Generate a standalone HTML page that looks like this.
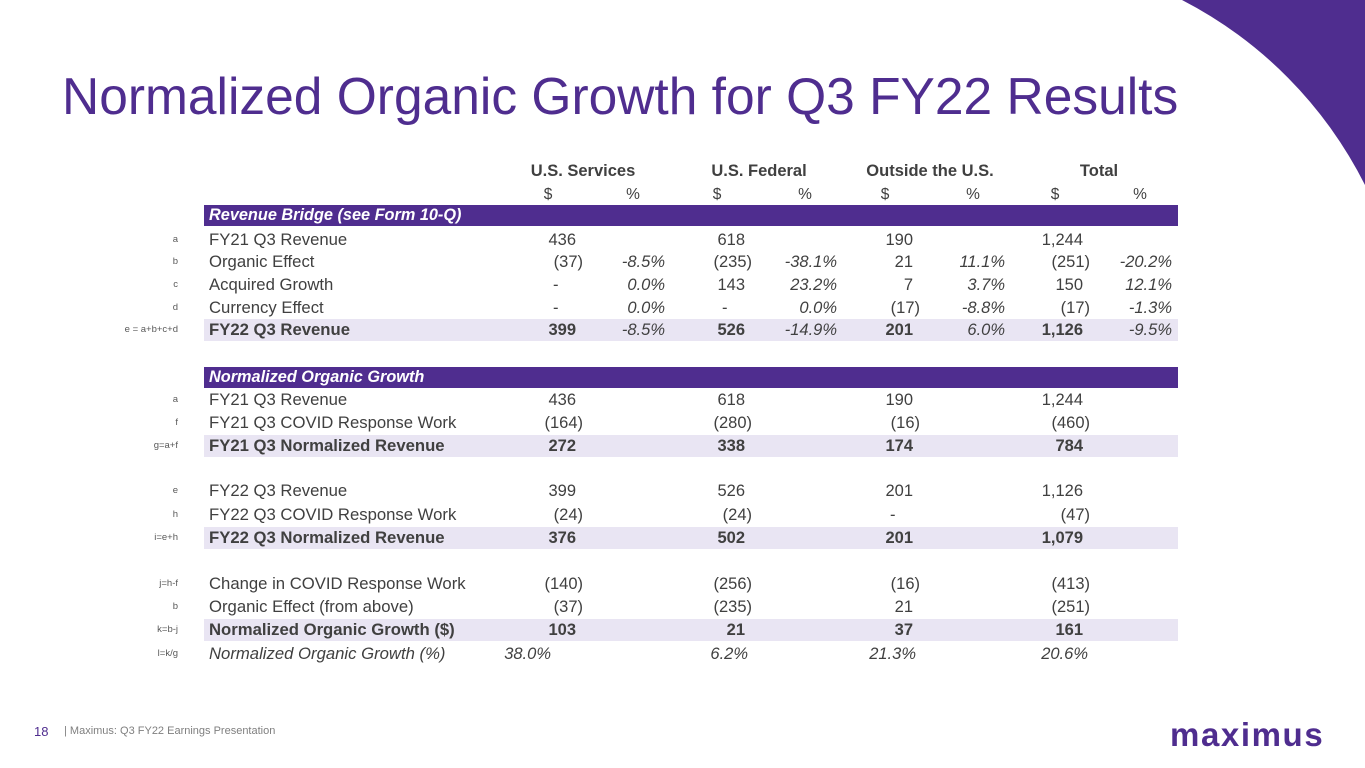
<!DOCTYPE html>
<html><head><meta charset="utf-8"><style>
body{margin:0;width:1365px;height:768px;background:#fff;position:relative;overflow:hidden;font-family:"Liberation Sans",Arial,sans-serif;color:#404040}
.a{position:absolute;white-space:nowrap;line-height:20px}
.r{text-align:right}
.bar{position:absolute;left:204px;width:974px;background:#4f2d8f}
.sh{position:absolute;left:204px;width:974px;background:#e9e5f3}
</style></head><body>
<svg style="position:absolute;left:0;top:0" width="1365" height="768"><path d="M1182 0 L1365 0 L1365 185 A 420 420 0 0 0 1182 0 Z" fill="#4f2d8f"/></svg>
<div class="a" style="left:62px;top:66px;font-size:51.5px;line-height:60px;color:#4f2d8f">Normalized Organic Growth for Q3 FY22 Results</div>
<div id="tbl"></div>
<div class="a" style="left:34px;top:722px;font-size:13px;color:#4f2d8f">18</div>
<div class="a" style="left:64px;top:721px;font-size:11px;color:#7f7f7f">| Maximus: Q3 FY22 Earnings Presentation</div>
<div class="a" style="left:1170px;top:717px;font-size:33px;line-height:36px;font-weight:bold;color:#4f2d8f;letter-spacing:1.6px">maximus</div>
<script>
const groups=["U.S. Services","U.S. Federal","Outside the U.S.","Total"];
const groupCenters=[583,759,930,1099];
const dollarRight=[583,752,920,1090];
const pctRight=[665,837,1005,1172];
const pctRowRight=[551,748,916,1088];
const rowY=[240,262,285,308,330,400,423,446,491,515,538,584,607,630,654];
const rowLetters=["a","b","c","d","e = a+b+c+d","a","f","g=a+f","e","h","i=e+h","j=h-f","b","k=b-j","l=k/g"];
const rowLabels=["FY21 Q3 Revenue","Organic Effect","Acquired Growth","Currency Effect","FY22 Q3 Revenue","FY21 Q3 Revenue","FY21 Q3 COVID Response Work","FY21 Q3 Normalized Revenue","FY22 Q3 Revenue","FY22 Q3 COVID Response Work","FY22 Q3 Normalized Revenue","Change in COVID Response Work","Organic Effect (from above)","Normalized Organic Growth ($)","Normalized Organic Growth (%)"];
const rowStyles=["n","n","n","n","b","n","n","b","n","n","b","n","n","b","i"];
const rowValues=[
["436","","618","","190","","1,244",""],
["(37)","-8.5%","(235)","-38.1%","21","11.1%","(251)","-20.2%"],
["-","0.0%","143","23.2%","7","3.7%","150","12.1%"],
["-","0.0%","-","0.0%","(17)","-8.8%","(17)","-1.3%"],
["399","-8.5%","526","-14.9%","201","6.0%","1,126","-9.5%"],
["436","","618","","190","","1,244",""],
["(164)","","(280)","","(16)","","(460)",""],
["272","","338","","174","","784",""],
["399","","526","","201","","1,126",""],
["(24)","","(24)","","-","","(47)",""],
["376","","502","","201","","1,079",""],
["(140)","","(256)","","(16)","","(413)",""],
["(37)","","(235)","","21","","(251)",""],
["103","","21","","37","","161",""],
["38.0%","","6.2%","","21.3%","","20.6%",""]];
const sections=[{y:205,t:"Revenue Bridge (see Form 10-Q)"},{y:367,t:"Normalized Organic Growth"}];
const T=document.getElementById('tbl');
function add(html,cls,style){const d=document.createElement('div');d.className=cls;d.style.cssText=style;d.textContent=html;T.appendChild(d);return d;}
groups.forEach((g,i)=>{
 const d=add(g,'a',`left:${groupCenters[i]-90}px;width:180px;text-align:center;top:161px;font-weight:bold;font-size:16.5px`);
 
 
 const s=add('$','a',`left:${dollarRight[i]-40}px;width:10px;text-align:center;top:185px;font-size:15.5px`);
 
 
 const p=add('%','a',`left:${pctRight[i]-40}px;width:16px;text-align:center;top:185px;font-size:15.5px`);
 
 
});
sections.forEach(s=>{
 const b=add('','bar',`top:${s.y}px;height:21px`);
 
 
 const t=add(s.t,'a',`left:209px;top:${s.y}px;color:#fff;font-weight:bold;font-style:italic;font-size:16.3px`);
 
 
});
rowY.forEach((y,r)=>{
 const st=rowStyles[r];
 if(st==='b'){const sh=add('','sh',`top:${y-11}px;height:22px`);
  
  }
 const L=add(rowLetters[r],'a r',`left:100px;width:78px;top:${y-10}px;font-size:9.5px;color:#595959`);
 
 
 const fw=st==='b'?'bold':'normal', fs=st==='i'?'italic':'normal';
 const lab=add(rowLabels[r],'a',`left:209px;top:${y-10}px;font-size:16.7px;font-weight:${fw};font-style:${fs}`);
 
 
 rowValues[r].forEach((v,c)=>{
  if(!v)return;const g=c>>1;let style;
  if(c%2===0){
   if(st==='i'){style=`left:${pctRowRight[g]-80}px;width:80px;text-align:right;font-style:italic`;}
   else if(v==='-'){style=`left:${dollarRight[g]-30}px`;}
   else{const pad=v.startsWith('(')?0:7;style=`left:${dollarRight[g]-100}px;width:${100-pad}px;text-align:right;font-weight:${fw}`;}
  } else style=`left:${pctRight[g]-80}px;width:80px;text-align:right;font-style:italic`;
  const d=add(v,'a',`top:${y-10}px;font-size:16.5px;${style}`);
  
  
 });
});
</script>
</body></html>
